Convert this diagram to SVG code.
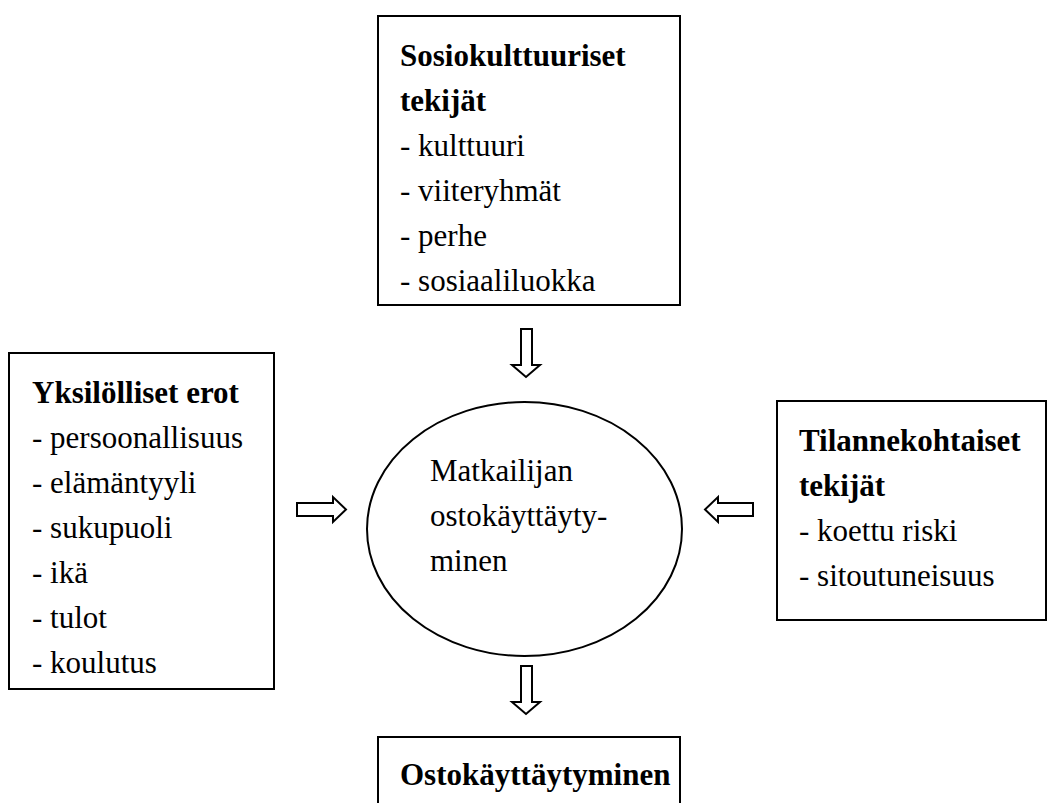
<svg xmlns="http://www.w3.org/2000/svg" width="1052" height="803" viewBox="0 0 1052 803">
<style>
.box{fill:#fff;stroke:#000;stroke-width:2}
.arr{fill:#fff;stroke:#000;stroke-width:2;stroke-linejoin:miter}
text{font-family:"Liberation Serif","Times New Roman",serif;font-size:31px;fill:#000}
.b{font-weight:bold}
</style>
<rect width="1052" height="803" fill="#fff"/>
<g id="connectors">
<polygon class="arr" points="521,329 532,329 532,365 540,365 526,377 512,365 521,365"/>
<polygon class="arr" points="297,503 333,503 333,497 346,509.5 333,522 333,516 297,516"/>
<polygon class="arr" points="753,503 718,503 718,497 705,509.5 718,522 718,516 753,516"/>
<polygon class="arr" points="521,666 532,666 532,702 540,702 526,714 512,702 521,702"/>
</g>
<g id="socio">
<rect class="box" x="378" y="16" width="302" height="289"/>
<text class="b" x="400" y="66">Sosiokulttuuriset</text>
<text class="b" x="400" y="111">tekijät</text>
<text x="400" y="156">- kulttuuri</text>
<text x="400" y="201">- viiteryhmät</text>
<text x="400" y="246">- perhe</text>
<text x="400" y="291">- sosiaaliluokka</text>
</g>
<g id="individual">
<rect class="box" x="9" y="353" width="265" height="336"/>
<text class="b" x="32" y="403">Yksilölliset erot</text>
<text x="32" y="448">- persoonallisuus</text>
<text x="32" y="493">- elämäntyyli</text>
<text x="32" y="538">- sukupuoli</text>
<text x="32" y="583">- ikä</text>
<text x="32" y="628">- tulot</text>
<text x="32" y="673">- koulutus</text>
</g>
<g id="center">
<ellipse class="box" cx="524.5" cy="529" rx="157.5" ry="127"/>
<text x="430" y="481">Matkailijan</text>
<text x="430" y="526">ostokäyttäyty-</text>
<text x="430" y="571">minen</text>
</g>
<g id="situational">
<rect class="box" x="777" y="401" width="269" height="219"/>
<text class="b" x="799" y="451">Tilannekohtaiset</text>
<text class="b" x="799" y="496">tekijät</text>
<text x="799" y="541">- koettu riski</text>
<text x="799" y="586">- sitoutuneisuus</text>
</g>
<g id="outcome">
<rect class="box" x="378" y="737" width="302" height="80"/>
<text class="b" x="400" y="785">Ostokäyttäytyminen</text>
</g>
</svg>
